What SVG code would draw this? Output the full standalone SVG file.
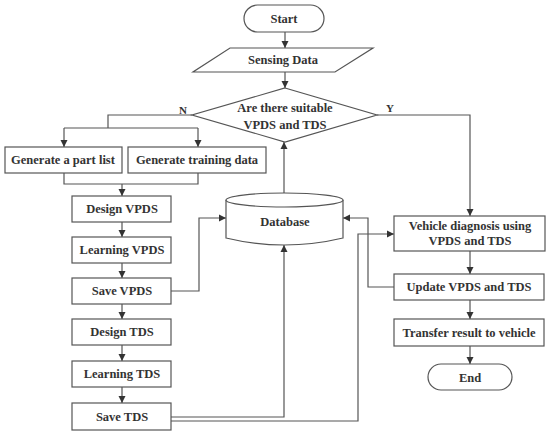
<svg xmlns="http://www.w3.org/2000/svg" width="550" height="435" viewBox="0 0 550 435">
<defs>
<style>
.box{fill:#fff;stroke:#555;stroke-width:1.2}
.ln{fill:none;stroke:#555;stroke-width:1.2}
.arr{fill:none;stroke:#555;stroke-width:1.2;marker-end:url(#ah)}
text{font-family:"Liberation Serif","DejaVu Serif",serif;font-size:12.5px;fill:#333;text-anchor:middle;font-weight:bold}
</style>
<marker id="ah" markerWidth="8" markerHeight="8" refX="7" refY="4" orient="auto" markerUnits="userSpaceOnUse">
<path d="M0,0.5 L7,4 L0,7.5 Z" fill="#333"/>
</marker>
</defs>
<rect width="550" height="435" fill="#fff"/>
<g id="connectors">
<path class="arr" d="M285,32 V48"/>
<path class="arr" d="M285,72 V88"/>
<path class="ln" d="M192,115 H108 V128"/>
<path class="ln" d="M64,128 H198"/>
<path class="arr" d="M64,128 V147"/>
<path class="arr" d="M198,128 V147"/>
<path class="ln" d="M64,173 V184 H198 V173"/>
<path class="arr" d="M122,184 V196"/>
<path class="arr" d="M122,222 V237"/>
<path class="arr" d="M122,263 V278"/>
<path class="arr" d="M122,304 V319"/>
<path class="arr" d="M122,345 V361"/>
<path class="arr" d="M122,387 V403"/>
<path class="arr" d="M171,291 H199 V218 H226"/>
<path class="arr" d="M171,417 H284 V245"/>
<path class="arr" d="M171,421 H358 V234 H394"/>
<path class="arr" d="M284,193 V142"/>
<path class="arr" d="M377,115 H470 V216"/>
<path class="arr" d="M394,287 H368 V218 H343"/>
<path class="arr" d="M470,251 V274"/>
<path class="arr" d="M470,300 V319"/>
<path class="arr" d="M470,346 V364"/>
<text x="183" y="114" style="font-size:11px">N</text>
<text x="390" y="112" style="font-size:11px">Y</text>
</g>
<g id="start">
<rect class="box" x="244" y="5" width="80" height="27" rx="13.5"/>
<text x="284" y="23">Start</text>
</g>
<g id="sensing">
<polygon class="box" points="230,48 373,48 335,72 193,72"/>
<text x="283" y="64">Sensing Data</text>
</g>
<g id="decision">
<polygon class="box" points="285,88 377,115 285,142 192,115"/>
<text x="285" y="112">Are there suitable</text>
<text x="285" y="129">VPDS and TDS</text>
</g>
<g id="partlist">
<rect class="box" x="5" y="147" width="117" height="26"/>
<text x="63" y="164">Generate a part list</text>
</g>
<g id="training">
<rect class="box" x="128" y="147" width="138" height="26"/>
<text x="197" y="164">Generate training data</text>
</g>
<g id="designvpds">
<rect class="box" x="72" y="196" width="99" height="26"/>
<text x="122" y="213">Design VPDS</text>
</g>
<g id="learnvpds">
<rect class="box" x="72" y="237" width="99" height="26"/>
<text x="122" y="254">Learning VPDS</text>
</g>
<g id="savevpds">
<rect class="box" x="72" y="278" width="99" height="26"/>
<text x="122" y="295">Save VPDS</text>
</g>
<g id="designtds">
<rect class="box" x="72" y="319" width="99" height="26"/>
<text x="122" y="336">Design TDS</text>
</g>
<g id="learntds">
<rect class="box" x="72" y="361" width="99" height="26"/>
<text x="122" y="378">Learning TDS</text>
</g>
<g id="savetds">
<rect class="box" x="72" y="403" width="99" height="27"/>
<text x="122" y="421">Save TDS</text>
</g>
<g id="database">
<path class="box" d="M226,200 V238 Q284,252 343,238 V200"/>
<ellipse class="box" cx="284.5" cy="200" rx="58.5" ry="7"/>
<text x="285" y="226">Database</text>
</g>
<g id="diagnosis">
<rect class="box" x="394" y="216" width="151" height="35"/>
<text x="470" y="230">Vehicle diagnosis using</text>
<text x="470" y="245">VPDS and TDS</text>
</g>
<g id="update">
<rect class="box" x="394" y="274" width="150" height="26"/>
<text x="469" y="291">Update VPDS and TDS</text>
</g>
<g id="transfer">
<rect class="box" x="394" y="319" width="150" height="27"/>
<text x="469" y="337">Transfer result to vehicle</text>
</g>
<g id="end">
<rect class="box" x="428" y="364" width="84" height="26" rx="13"/>
<text x="470" y="382">End</text>
</g>
</svg>
